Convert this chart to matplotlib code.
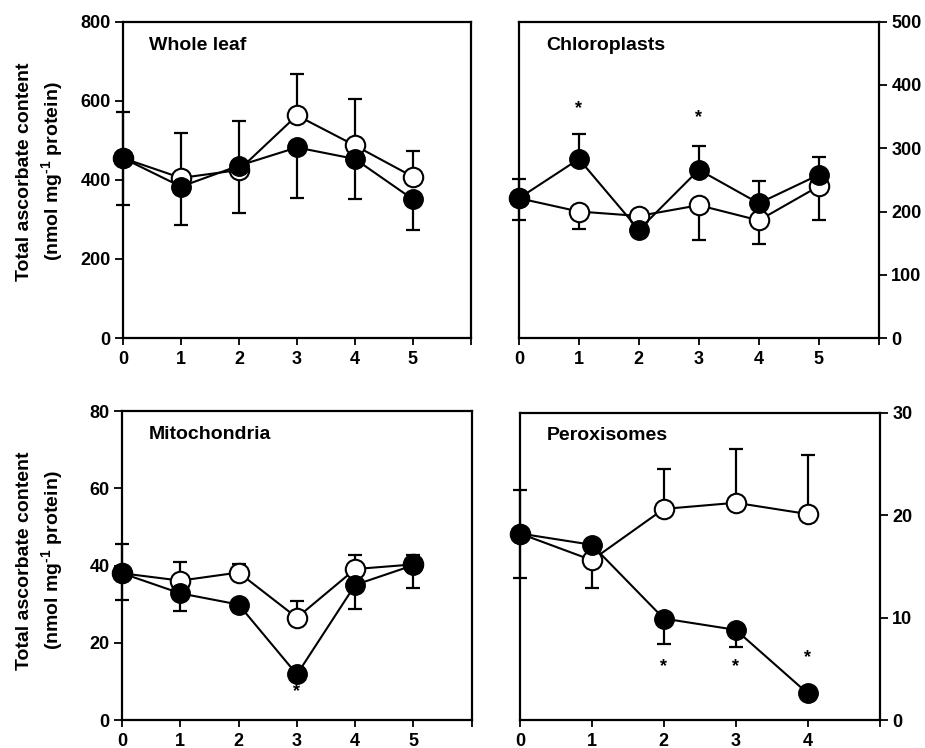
import numpy as np
import matplotlib
matplotlib.use("Agg")
import matplotlib.pyplot as plt

plt.rcParams['font.family'] = ['Liberation Sans', 'DejaVu Sans']
plt.rcParams['font.weight'] = 'bold'
plt.rcParams['mathtext.fontset'] = 'custom'
plt.rcParams['mathtext.rm'] = 'Liberation Sans:bold'
plt.rcParams['mathtext.default'] = 'rm'

### Data (signed error: + is an upper bar, - is a lower bar)
days6 = [0, 1, 2, 3, 4, 5]
days5 = [0, 1, 2, 3, 4]

leaf_open = [455, 405, 425, 563, 487, 408]
leaf_open_err = [117, 113, 125, 105, 117, 65]
leaf_fill = [455, 383, 436, 482, 453, 351]
leaf_fill_err = [-119, -97, -120, -127, -102, -78]

chl_open = [221, 200, 193, 210, 186, 240]
chl_open_err = [-35, -28, 0, -55, -37, -54]
chl_fill = [221, 283, 171, 266, 213, 258]
chl_fill_err = [31, 40, 0, 37, 36, 28]
chl_star_x = [1, 3]
chl_star_y = [363, 349]

mit_open = [38.0, 36.1, 38.2, 26.5, 39.1, 40.3]
mit_open_err = [7.5, 4.7, 2.2, 4.4, 3.6, 2.4]
mit_fill = [38.0, 32.8, 29.9, 11.8, 35.0, 40.1]
mit_fill_err = [-6.9, -4.5, -2.0, 0, -6.3, -6.0]
mit_star_x = [3]
mit_star_y = [7.3]

per_open = [18.2, 15.6, 20.6, 21.2, 20.1]
per_open_err = [4.2, -2.7, 3.9, 5.2, 5.8]
per_fill = [18.2, 17.1, 9.9, 8.8, 2.6]
per_fill_err = [-4.3, 0, -2.5, -1.7, 0]
per_star_x = [2, 3, 4]
per_star_y = [5.2, 5.2, 6.1]


def split_err(e):
    e = np.array(e, dtype=float)
    return [np.clip(-e, 0, None), np.clip(e, 0, None)]


def panel(ax, x, yo, eo, yf, ef, title, ymax, ystep, xmax, right=False,
          sx=None, sy=None):
    for y, e in ((yo, eo), (yf, ef)):
        ax.errorbar(x, y, yerr=split_err(e), fmt='none', ecolor='k',
                    elinewidth=1.6, capsize=5, capthick=1.6, zorder=2,
                    clip_on=False)
    ax.plot(x, yo, '-o', color='k', mfc='white', mec='k', mew=1.5, ms=14,
            lw=1.5, zorder=3, clip_on=False)
    ax.plot(x, yf, '-o', color='k', mfc='k', mec='k', ms=14,
            lw=1.5, zorder=4, clip_on=False)
    if sx is not None:
        for a, b in zip(sx, sy):
            ax.text(a, b, '*', ha='center', va='center', fontsize=13)
    ax.set_xlim(0, xmax)
    ax.set_ylim(0, ymax)
    ax.set_xticks(range(xmax + 1))
    ax.set_xticklabels([str(i) for i in range(xmax)] + [''])
    ax.set_yticks(np.arange(0, ymax + ystep / 2, ystep))
    for s in ax.spines.values():
        s.set_linewidth(1.6)
    ax.tick_params(axis='x', direction='out', length=5, width=1.3,
                   labelsize=13, pad=4)
    ax.tick_params(axis='y', direction='out', length=6, width=1.3,
                   labelsize=13, pad=3)
    if right:
        ax.yaxis.tick_right()
    ax.text(0.075, 0.925, title, transform=ax.transAxes, fontsize=14,
            ha='left', va='center')


fig = plt.figure(figsize=(9.25, 7.48), dpi=100)
ax1 = fig.add_axes([0.133, 0.548, 0.376, 0.423])
ax2 = fig.add_axes([0.561, 0.548, 0.389, 0.423])
ax3 = fig.add_axes([0.132, 0.0374, 0.378, 0.413])
ax4 = fig.add_axes([0.562, 0.0374, 0.389, 0.411])

panel(ax1, days6, leaf_open, leaf_open_err, leaf_fill, leaf_fill_err,
      'Whole leaf', 800, 200, 6)
panel(ax2, days6, chl_open, chl_open_err, chl_fill, chl_fill_err,
      'Chloroplasts', 500, 100, 6, right=True, sx=chl_star_x, sy=chl_star_y)
panel(ax3, days6, mit_open, mit_open_err, mit_fill, mit_fill_err,
      'Mitochondria', 80, 20, 6, sx=mit_star_x, sy=mit_star_y)
panel(ax4, days5, per_open, per_open_err, per_fill, per_fill_err,
      'Peroxisomes', 30, 10, 5, right=True, sx=per_star_x, sy=per_star_y)

# y labels
for yc in (0.771, 0.251):
    fig.text(0.027, yc, 'Total ascorbate content', rotation=90,
             ha='center', va='center', fontsize=14)
    fig.text(0.056, yc, '(nmol mg$^{\u20101}$ protein)', rotation=90,
             ha='center', va='center', fontsize=14)

fig.savefig('out.png', dpi=100)
